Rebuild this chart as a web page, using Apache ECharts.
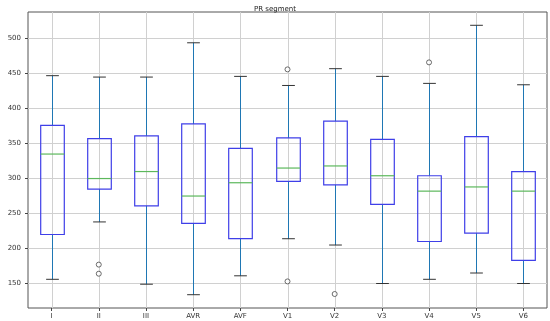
<!DOCTYPE html>
<html>
<head>
<meta charset="utf-8">
<script src="https://cdn.jsdelivr.net/npm/echarts@6/dist/echarts.min.js"></script>
<style>
  html, body { margin: 0; padding: 0; background: #fff; }
  #chart { width: 550px; height: 321px; }
</style>
</head>
<body>
<div id="chart"></div>
<script>
// 导联名称
const categories = ["I", "II", "III", "AVR", "AVF", "V1", "V2", "V3", "V4", "V5", "V6"];
// 箱线图五数
const lowerWhisker = [156, 238, 149, 134, 161, 214, 205, 150, 156, 165, 150];
const q1 = [220, 285, 261, 236, 214, 296, 291, 263, 210, 222, 183];
const median = [335, 300, 310, 275, 294, 315, 318, 304, 282, 288, 282];
const q3 = [376, 357, 361, 378, 343, 358, 382, 356, 304, 360, 310];
const upperWhisker = [447, 445, 445, 494, 446, 433, 457, 446, 436, 519, 434];
// 异常点 [导联序号, 值]
const outliers = [[1, 177], [1, 164], [5, 456], [5, 153], [6, 135], [8, 466]];
const yTicks = [150, 200, 250, 300, 350, 400, 450, 500];

const boxData = categories.map((c, i) => [i, lowerWhisker[i], q1[i], median[i], q3[i], upperWhisker[i]]);

const chart = echarts.init(document.getElementById("chart"), null, { renderer: "canvas" });

const seg = (x1, y1, x2, y2, color, w) => ({
  type: "line",
  shape: { x1: x1, y1: y1, x2: x2, y2: y2 },
  style: { stroke: color, lineWidth: w }
});

// 竖直网格线
function renderGrid(params, api) {
  const p = api.coord([api.value(0), api.value(3)]);
  const cx = Math.round(p[0]) + 0.5;
  const sys = params.coordSys;
  return seg(cx, sys.y, cx, sys.y + sys.height, "#d0d0d0", 1);
}

function renderBox(params, api) {
  const x = api.value(0);
  const pMin = api.coord([x, api.value(1)]);
  const pQ1 = api.coord([x, api.value(2)]);
  const pMed = api.coord([x, api.value(3)]);
  const pQ3 = api.coord([x, api.value(4)]);
  const pMax = api.coord([x, api.value(5)]);
  const band = api.size([1, 0])[0];
  const boxHalf = band * 0.25;
  const capHalf = band * 0.135;
  const cx = Math.round(pMed[0]) + 0.5;
  return {
    type: "group",
    children: [
      seg(cx, pQ3[1], cx, pMax[1], "#1f77b4", 1),
      seg(cx, pQ1[1], cx, pMin[1], "#1f77b4", 1),
      seg(cx - capHalf, pMax[1], cx + capHalf, pMax[1], "#333", 1),
      seg(cx - capHalf, pMin[1], cx + capHalf, pMin[1], "#333", 1),
      {
        type: "rect",
        shape: { x: cx - boxHalf, y: pQ3[1], width: boxHalf * 2, height: pQ1[1] - pQ3[1] },
        style: { fill: "none", stroke: "#3f3fe8", lineWidth: 1.2 }
      },
      seg(cx - boxHalf, pMed[1], cx + boxHalf, pMed[1], "#5cb85c", 1.2)
    ]
  };
}

const option = {
  animation: false,
  title: {
    text: "PR segment",
    left: "center",
    top: 1,
    textStyle: { fontFamily: "DejaVu Sans", fontSize: 7, fontWeight: "normal", color: "#222" }
  },
  grid: {
    left: 28,
    right: 3,
    top: 12,
    bottom: 13,
    containLabel: false,
    outerBoundsMode: "none",
    show: true,
    borderColor: "#555",
    borderWidth: 1,
    backgroundColor: "#fff"
  },
  xAxis: {
    type: "category",
    data: categories,
    boundaryGap: true,
    axisLine: { show: false },
    axisTick: { show: true, alignWithLabel: true, length: 3, inside: false, lineStyle: { color: "#444" } },
    axisLabel: { fontFamily: "DejaVu Sans", fontSize: 7, color: "#333", margin: 5 },
    splitLine: { show: false }
  },
  yAxis: {
    type: "value",
    min: 115,
    max: 538,
    name: "Time(ms)",
    nameLocation: "middle",
    nameGap: 20,
    nameTextStyle: { fontFamily: "DejaVu Sans", fontSize: 7, color: "#333" },
    axisLine: { show: false },
    axisTick: { show: true, length: 3, customValues: yTicks, lineStyle: { color: "#444" } },
    axisLabel: { fontFamily: "DejaVu Sans", fontSize: 7, color: "#333", margin: 7, customValues: yTicks },
    splitLine: { show: true, lineStyle: { color: "#d0d0d0", width: 1 } }
  },
  series: [
    {
      type: "custom",
      renderItem: renderGrid,
      data: boxData,
      encode: { x: 0, y: 3 },
      silent: true,
      z: 1
    },
    {
      type: "custom",
      renderItem: renderBox,
      data: boxData,
      encode: { x: 0, y: [1, 2, 3, 4, 5] },
      z: 3
    },
    {
      type: "scatter",
      data: outliers,
      symbol: "circle",
      symbolSize: 5,
      itemStyle: { color: "#fff", borderColor: "#333", borderWidth: 0.9 },
      z: 4
    }
  ]
};
chart.setOption(option);
</script>
</body>
</html>
